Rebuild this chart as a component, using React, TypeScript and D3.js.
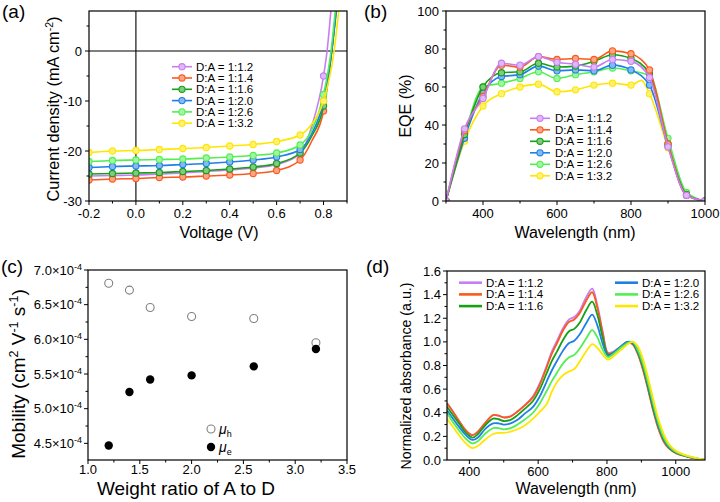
import React from 'react';
import * as d3 from 'd3';

const FONT = "'Liberation Sans', Arial, Helvetica, sans-serif";

const seriesNames = ['D:A = 1:1.2', 'D:A = 1:1.4', 'D:A = 1:1.6', 'D:A = 1:2.0', 'D:A = 1:2.6', 'D:A = 1:3.2'];
const seriesColors = ['#C77DF3', '#FA5A1E', '#16A016', '#1F7FE6', '#52EE52', '#FFE600'];

// (a) J-V
const jvVoltages = [-0.2, -0.1, 0, 0.1, 0.2, 0.3, 0.4, 0.5, 0.6, 0.7, 0.8];
const jv12 = [-25.0, -24.9, -24.8, -24.6, -24.4, -24.1, -23.8, -23.4, -22.7, -20.6, -5.0];
const jv14 = [-25.8, -25.6, -25.5, -25.3, -25.2, -25.0, -24.8, -24.5, -23.9, -21.8, -12.0];
const jv16 = [-24.6, -24.5, -24.4, -24.3, -24.1, -23.9, -23.6, -23.2, -22.5, -20.4, -11.0];
const jv20 = [-23.3, -23.1, -23.0, -22.9, -22.7, -22.5, -22.2, -21.8, -21.2, -19.7, -10.0];
const jv26 = [-22.1, -21.9, -21.8, -21.7, -21.6, -21.4, -21.2, -20.9, -20.4, -18.8, -8.7];
const jv32 = [-20.3, -20.0, -19.9, -19.7, -19.5, -19.3, -19.0, -18.7, -18.1, -16.8, -10.0];
const jvKneeV = 0.75;
const jvKneeJ = [-15.0, -18.0, -17.0, -16.5, -15.8, -14.6];
const jvVoc = [0.815, 0.835, 0.835, 0.835, 0.832, 0.845];
const jvTopV = [0.834, 0.857, 0.856, 0.858, 0.853, 0.868];
const jvTopJ = 9.5;

// (b) EQE
const eqeWl = [300, 350, 400, 450, 500, 550, 600, 650, 700, 750, 800, 850, 900, 950, 1000];
const eqe12 = [0, 38, 54, 72.5, 71.5, 76, 73, 72, 70.5, 74.5, 73.5, 65, 28.5, 3, 0];
const eqe14 = [0, 37, 55, 71.5, 70.5, 76, 74.5, 75, 74.5, 79, 77.5, 69, 30, 3, 0];
const eqe16 = [0, 35, 60, 67.5, 68, 72.5, 70.5, 71, 73.5, 77, 75, 67, 30, 3.5, 0];
const eqe20 = [0, 33, 57, 65.5, 66.5, 71, 68.5, 69, 68.5, 71.5, 69, 61, 29, 3, 0];
const eqe26 = [0, 35, 60, 62, 64.5, 68, 64.5, 66.5, 68, 70, 68.5, 66, 33, 4.5, 0];
const eqe32 = [0, 31.5, 50, 56.5, 60, 61.5, 57.5, 58.5, 61, 62, 61, 56.5, 28, 3, 0];
const eqe32SpikeWl = 828;
const eqe32SpikeVal = 63.5;

// (c) mobility
const weightRatio = [1.2, 1.4, 1.6, 2.0, 2.6, 3.2];
const muH = [6.81e-4, 6.71e-4, 6.46e-4, 6.33e-4, 6.3e-4, 5.95e-4];
const muE = [4.47e-4, 5.24e-4, 5.42e-4, 5.48e-4, 5.61e-4, 5.86e-4];

// (d) absorbance
const absWl = [335, 350, 370, 390, 409, 425, 445, 469, 485, 500, 520, 540, 560, 585, 605, 624, 640, 655, 673, 690, 705, 720, 740, 757, 772, 788, 803, 820, 840, 860, 875, 890, 905, 920, 935, 950, 965, 980, 1000, 1020, 1040, 1060, 1085];
const abs12 = [.48, .42, .33, .25, .21, .24, .31, .38, .375, .36, .37, .41, .46, .54, .65, .79, .92, 1.01, 1.12, 1.19, 1.21, 1.26, 1.38, 1.45, 1.31, 1.08, .91, .92, .96, 1.0, .98, .90, .77, .60, .42, .27, .16, .10, .06, .04, .024, .012, 0];
const abs14 = [.48, .42, .33, .25, .21, .24, .31, .38, .375, .36, .37, .41, .46, .53, .64, .78, .90, .99, 1.10, 1.17, 1.19, 1.24, 1.35, 1.42, 1.29, 1.07, .90, .91, .955, .995, .98, .895, .76, .59, .41, .26, .155, .098, .058, .038, .023, .011, 0];
const abs16 = [.45, .39, .31, .23, .19, .22, .29, .35, .345, .33, .34, .38, .43, .50, .60, .73, .84, .92, 1.02, 1.09, 1.11, 1.16, 1.27, 1.34, 1.23, 1.03, .89, .91, .96, 1.0, .985, .91, .78, .61, .43, .28, .17, .105, .063, .042, .025, .013, 0];
const abs20 = [.42, .36, .28, .21, .17, .19, .26, .31, .31, .30, .31, .34, .39, .45, .54, .66, .76, .84, .93, .99, 1.01, 1.06, 1.16, 1.23, 1.14, .98, .88, .91, .96, 1.0, .99, .92, .80, .63, .45, .29, .18, .11, .066, .044, .026, .013, 0];
const abs26 = [.40, .33, .25, .18, .14, .16, .22, .27, .27, .26, .27, .30, .34, .40, .48, .58, .67, .74, .82, .87, .89, .94, 1.03, 1.10, 1.04, .93, .87, .90, .95, .99, 1.0, .93, .81, .65, .47, .31, .19, .12, .07, .046, .028, .014, 0];
const abs32 = [.35, .29, .21, .14, .10, .12, .17, .22, .23, .23, .24, .26, .29, .35, .41, .47, .58, .66, .72, .75, .77, .83, .92, .98, .95, .89, .85, .88, .93, .98, 1.0, .96, .85, .69, .51, .34, .22, .135, .078, .05, .03, .015, 0];

// ticks
const aXMajor = [-0.2, 0, 0.2, 0.4, 0.6, 0.8];
const aXMinor = [-0.1, 0.1, 0.3, 0.5, 0.7, 0.9];
const aYMajor = [-30, -20, -10, 0];
const aYMinor = [-25, -15, -5, 5];
const bXMajor = [400, 600, 800, 1000];
const bXMinor = [300, 500, 700, 900];
const bYMajor = [0, 20, 40, 60, 80, 100];
const bYMinor = [10, 30, 50, 70, 90];
const cXMajor = [1.0, 1.5, 2.0, 2.5, 3.0, 3.5];
const cXMinor = [1.25, 1.75, 2.25, 2.75, 3.25];
const cYMajor = [4.5e-4, 5.0e-4, 5.5e-4, 6.0e-4, 6.5e-4, 7.0e-4];
const cYMinor = [4.75e-4, 5.25e-4, 5.75e-4, 6.25e-4, 6.75e-4];
const dXMajor = [400, 600, 800, 1000];
const dXMinor = [500, 700, 900];
const dYMajor = [0, 0.2, 0.4, 0.6, 0.8, 1.0, 1.2, 1.4, 1.6];
const dYMinor = [0.1, 0.3, 0.5, 0.7, 0.9, 1.1, 1.3, 1.5];

type Pt = [number, number];
const lighten = (c: string, t = 0.5) => d3.interpolateRgb(c, '#ffffff')(t);

function Box({ x0, x1, y0, y1 }: any) {
  return <rect x={x0} y={y0} width={x1 - x0} height={y1 - y0} fill="none" stroke="#000" strokeWidth={1.2} />;
}

function XAxis({ scale, y, major, minor, fmt, labelDy = 16 }: any) {
  return (
    <g>
      {minor.map((v: number) => (
        <line key={'m' + v} x1={scale(v)} x2={scale(v)} y1={y} y2={y + 2.5} stroke="#000" strokeWidth={1} />
      ))}
      {major.map((v: number) => (
        <g key={'M' + v}>
          <line x1={scale(v)} x2={scale(v)} y1={y} y2={y + 4} stroke="#000" strokeWidth={1} />
          <text x={scale(v)} y={y + labelDy} textAnchor="middle" fontSize={13}>{fmt(v)}</text>
        </g>
      ))}
    </g>
  );
}

function YAxis({ scale, x, major, minor, fmt, labelDx = 7 }: any) {
  return (
    <g>
      {minor.map((v: number) => (
        <line key={'m' + v} x1={x - 2.5} x2={x} y1={scale(v)} y2={scale(v)} stroke="#000" strokeWidth={1} />
      ))}
      {major.map((v: number) => (
        <g key={'M' + v}>
          <line x1={x - 4} x2={x} y1={scale(v)} y2={scale(v)} stroke="#000" strokeWidth={1} />
          <text x={x - labelDx} y={scale(v) + 4.6} textAnchor="end" fontSize={13}>{fmt(v)}</text>
        </g>
      ))}
    </g>
  );
}

function Marker({ cx, cy, color, r = 3.1 }: any) {
  return <circle cx={cx} cy={cy} r={r} fill={lighten(color, 0.45)} stroke={color} strokeWidth={1.1} />;
}

export default function App() {
  const A = { x0: 89, x1: 347, y0: 11, y1: 201 };
  const B = { x0: 446, x1: 705, y0: 11, y1: 201 };
  const C = { x0: 88, x1: 347, y0: 270, y1: 460 };
  const D = { x0: 447, x1: 705, y0: 271, y1: 460 };

  const ax = d3.scaleLinear().domain([-0.2, 0.9]).range([A.x0, A.x1]);
  const ay = d3.scaleLinear().domain([-30, 8]).range([A.y1, A.y0]);
  const bx = d3.scaleLinear().domain([300, 1000]).range([B.x0, B.x1]);
  const by = d3.scaleLinear().domain([0, 100]).range([B.y1, B.y0]);
  const cx = d3.scaleLinear().domain([1.0, 3.5]).range([C.x0, C.x1]);
  const cy = d3.scaleLinear().domain([4.26e-4, 7.0e-4]).range([C.y1, C.y0]);
  const dx = d3.scaleLinear().domain([335, 1085]).range([D.x0, D.x1]);
  const dy = d3.scaleLinear().domain([0, 1.6]).range([D.y1, D.y0]);

  const jvAll = [jv12, jv14, jv16, jv20, jv26, jv32];
  const eqeAll = [eqe12, eqe14, eqe16, eqe20, eqe26, eqe32];
  const absAll = [abs12, abs14, abs16, abs20, abs26, abs32];

  const lineA = d3.line<Pt>().x(d => ax(d[0])).y(d => ay(d[1])).curve(d3.curveMonotoneX);
  const lineB = d3.line<Pt>().x(d => bx(d[0])).y(d => by(d[1])).curve(d3.curveMonotoneX);
  const lineD = d3.line<Pt>().x(d => dx(d[0])).y(d => dy(d[1])).curve(d3.curveCatmullRom.alpha(0.5));

  const jvLine = (i: number): Pt[] => {
    const pts: Pt[] = jvVoltages.map((v, k) => [v, jvAll[i][k]] as Pt);
    pts.splice(10, 0, [jvKneeV, jvKneeJ[i]]);
    pts.push([jvVoc[i], 0]);
    pts.push([jvTopV[i], jvTopJ]);
    return pts;
  };
  const eqeLine = (i: number): Pt[] => {
    const pts: Pt[] = eqeWl.map((w, k) => [w, eqeAll[i][k]] as Pt);
    if (i === 5) {
      pts.push([eqe32SpikeWl, eqe32SpikeVal]);
      pts.sort((a, b) => a[0] - b[0]);
    }
    return pts;
  };

  const fmt1 = (v: number) => v.toFixed(1);
  const fmt0 = (v: number) => String(v);
  const fmtMob = (v: number) => (
    <>
      {(v * 1e4).toFixed(1)}×10<tspan dy={-5} fontSize={9}>-4</tspan>
    </>
  );

  const aOrder = [0, 1, 2, 3, 4, 5];
  const bOrder = [5, 4, 3, 2, 1, 0];
  const dOrder = [0, 1, 2, 3, 4, 5];

  return (
    <svg width={720} height={502} style={{ position: 'absolute', left: 0, top: 0, background: '#fff' }} fontFamily={FONT}>
      <defs>
        {[A, B, C, D].map((p, i) => (
          <clipPath id={'clip' + i} key={i}>
            <rect x={p.x0} y={p.y0} width={p.x1 - p.x0} height={p.y1 - p.y0} />
          </clipPath>
        ))}
      </defs>

      {/* ===== (a) ===== */}
      <text x={2} y={18} fontSize={19}>(a)</text>
      <line x1={ax(0)} x2={ax(0)} y1={A.y0} y2={A.y1} stroke="#000" strokeWidth={1.1} />
      <line x1={A.x0} x2={A.x1} y1={ay(0)} y2={ay(0)} stroke="#000" strokeWidth={1.1} />
      <g clipPath="url(#clip0)">
        {aOrder.map(i => (
          <g key={i}>
            <path d={lineA(jvLine(i)) || ''} fill="none" stroke={seriesColors[i]} strokeWidth={1.6} />
            {jvVoltages.map((v, k) => (
              <Marker key={k} cx={ax(v)} cy={ay(jvAll[i][k])} color={seriesColors[i]} />
            ))}
          </g>
        ))}
      </g>
      <Box {...A} />
      <XAxis scale={ax} y={A.y1} major={aXMajor} minor={aXMinor} fmt={fmt1} labelDy={16.5} />
      <YAxis scale={ay} x={A.x0} major={aYMajor} minor={aYMinor} fmt={fmt0} />
      <text x={219} y={238} textAnchor="middle" fontSize={16}>Voltage (V)</text>
      <text transform="translate(59,109) rotate(-90)" textAnchor="middle" fontSize={16.3}>
        Current density (mA cm<tspan dy={-6} fontSize={10.5}>-2</tspan><tspan dy={6}>)</tspan>
      </text>
      {seriesNames.map((n, i) => {
        const y = 66.7 + i * 11.3;
        return (
          <g key={n}>
            <line x1={172} x2={192} y1={y} y2={y} stroke={seriesColors[i]} strokeWidth={1.6} />
            <Marker cx={182} cy={y} color={seriesColors[i]} />
            <text x={196} y={y + 4} fontSize={11.5}>{n}</text>
          </g>
        );
      })}

      {/* ===== (b) ===== */}
      <text x={364} y={18} fontSize={19}>(b)</text>
      <g clipPath="url(#clip1)">
        {bOrder.map(i => (
          <g key={i}>
            <path d={lineB(eqeLine(i)) || ''} fill="none" stroke={seriesColors[i]} strokeWidth={1.6} />
            {eqeWl.map((w, k) => (
              <Marker key={k} cx={bx(w)} cy={by(eqeAll[i][k])} color={seriesColors[i]} />
            ))}
          </g>
        ))}
      </g>
      <Box {...B} />
      <XAxis scale={bx} y={B.y1} major={bXMajor} minor={bXMinor} fmt={fmt0} labelDy={16.5} />
      <YAxis scale={by} x={B.x0} major={bYMajor} minor={bYMinor} fmt={fmt0} />
      <text x={575} y={238} textAnchor="middle" fontSize={16}>Wavelength (nm)</text>
      <text transform="translate(411,106) rotate(-90)" textAnchor="middle" fontSize={16}>EQE (%)</text>
      {seriesNames.map((n, i) => {
        const y = 118.3 + i * 11.5;
        return (
          <g key={n}>
            <line x1={530} x2={550} y1={y} y2={y} stroke={seriesColors[i]} strokeWidth={1.6} />
            <Marker cx={540} cy={y} color={seriesColors[i]} />
            <text x={555} y={y + 4} fontSize={11.5}>{n}</text>
          </g>
        );
      })}

      {/* ===== (c) ===== */}
      <text x={1} y={273} fontSize={19}>(c)</text>
      <g clipPath="url(#clip2)">
        {weightRatio.map((w, k) => (
          <circle key={'h' + k} cx={cx(w)} cy={cy(muH[k])} r={4} fill="#fff" stroke="#808080" strokeWidth={1.1} />
        ))}
        {weightRatio.map((w, k) => (
          <circle key={'e' + k} cx={cx(w)} cy={cy(muE[k])} r={4.2} fill="#000" />
        ))}
      </g>
      <Box {...C} />
      <XAxis scale={cx} y={C.y1} major={cXMajor} minor={cXMinor} fmt={fmt1} labelDy={14} />
      <YAxis scale={cy} x={C.x0} major={cYMajor} minor={cYMinor} fmt={fmtMob} labelDx={6} />
      <text x={186} y={495} textAnchor="middle" fontSize={19}>Weight ratio of A to D</text>
      <text transform="translate(25,374) rotate(-90)" textAnchor="middle" fontSize={19}>
        Mobility (cm<tspan dy={-7} fontSize={12.5}>2</tspan><tspan dy={7}> V</tspan>
        <tspan dy={-7} fontSize={12.5}>-1</tspan><tspan dy={7}> s</tspan>
        <tspan dy={-7} fontSize={12.5}>-1</tspan><tspan dy={7}>)</tspan>
      </text>
      <circle cx={211} cy={429} r={4} fill="#fff" stroke="#808080" strokeWidth={1.1} />
      <circle cx={211} cy={447} r={4.2} fill="#000" />
      <text x={219} y={434} fontSize={14}>
        <tspan fontStyle="italic">μ</tspan><tspan dy={3} fontSize={9}>h</tspan>
      </text>
      <text x={219} y={452} fontSize={14}>
        <tspan fontStyle="italic">μ</tspan><tspan dy={3} fontSize={9}>e</tspan>
      </text>

      {/* ===== (d) ===== */}
      <text x={366} y={273} fontSize={19}>(d)</text>
      <g clipPath="url(#clip3)">
        {dOrder.map(i => (
          <path key={i} d={lineD(absWl.map((w, k) => [w, absAll[i][k]] as Pt)) || ''} fill="none" stroke={seriesColors[i]} strokeWidth={1.8} />
        ))}
      </g>
      <Box {...D} />
      <XAxis scale={dx} y={D.y1} major={dXMajor} minor={dXMinor} fmt={fmt0} labelDy={16} />
      <YAxis scale={dy} x={D.x0} major={dYMajor} minor={dYMinor} fmt={fmt1} labelDx={6} />
      <text x={576} y={494} textAnchor="middle" fontSize={16}>Wavelength (nm)</text>
      <text transform="translate(411,376) rotate(-90)" textAnchor="middle" fontSize={14.2}>Normalized absorbance (a.u.)</text>
      {seriesNames.map((n, i) => {
        const col = i < 3 ? 0 : 1;
        const row = i % 3;
        const y = 282.7 + row * 11.7;
        const lx = col === 0 ? 459 : 615;
        return (
          <g key={n}>
            <line x1={lx} x2={lx + 23} y1={y} y2={y} stroke={seriesColors[i]} strokeWidth={2.6} />
            <text x={lx + 27} y={y + 4} fontSize={11.5}>{n}</text>
          </g>
        );
      })}
    </svg>
  );
}
